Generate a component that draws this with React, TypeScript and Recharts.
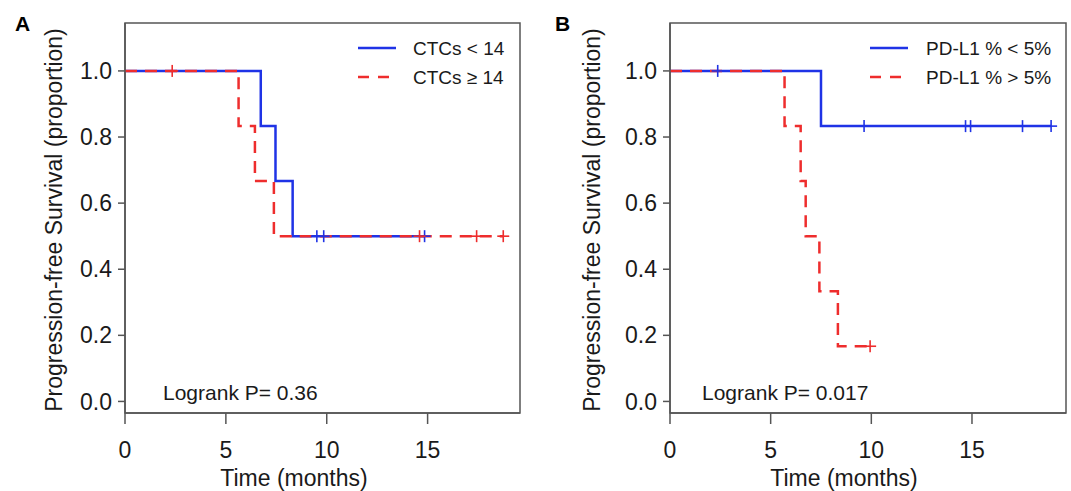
import React from 'react';
import { ComposedChart, Line, Scatter, XAxis, YAxis, ReferenceArea } from 'recharts';

// ---------- data ----------
const xTicks = [0, 5, 10, 15];
const yTicks = [0, 0.2, 0.4, 0.6, 0.8, 1.0];

// Panel A
const ctcLowTimes = [0, 6.73, 7.46, 8.31, 14.85];
const ctcLowSurv = [1, 0.833, 0.667, 0.5, 0.5];
const ctcLowCensorT = [9.51, 9.85, 14.85];
const ctcLowCensorS = [0.5, 0.5, 0.5];
const ctcHighTimes = [0, 5.63, 6.44, 7.38, 18.75];
const ctcHighSurv = [1, 0.833, 0.667, 0.5, 0.5];
const ctcHighCensorT = [2.34, 14.6, 17.43, 18.75];
const ctcHighCensorS = [1, 0.5, 0.5, 0.5];

// Panel B
const pdLowTimes = [0, 7.5, 18.93];
const pdLowSurv = [1, 0.833, 0.833];
const pdLowCensorT = [2.37, 9.64, 14.68, 14.93, 17.51, 18.93];
const pdLowCensorS = [1, 0.833, 0.833, 0.833, 0.833, 0.833];
const pdHighTimes = [0, 5.69, 6.49, 6.74, 7.42, 8.34, 9.94];
const pdHighSurv = [1, 0.833, 0.667, 0.5, 0.333, 0.167, 0.167];
const pdHighCensorT = [9.94];
const pdHighCensorS = [0.167];

const legendA = ['CTCs < 14', 'CTCs \u2265 14'];
const legendB = ['PD-L1 % < 5%', 'PD-L1 % > 5%'];
const pA = 'Logrank P= 0.36';
const pB = 'Logrank P= 0.017';

// ---------- styles ----------
const FONT = '"Liberation Sans", Arial, Helvetica, sans-serif';
const BLUE = '#1f33e6';
const RED = '#ee2d2d';
const AXIS = '#555555';
const TXT = '#1a1a1a';
const DASH = '12 8';

const zip = (t: number[], s: number[]) => t.map((v, i) => ({ t: v, s: s[i] }));

const plusShape = (color: string) => (props: any) => {
  const { cx, cy } = props;
  if (cx == null || cy == null) return <g />;
  return (
    <g>
      <line x1={cx - 6} x2={cx + 6} y1={cy} y2={cy} stroke={color} strokeWidth={1.6} />
      <line x1={cx} x2={cx} y1={cy - 6} y2={cy + 6} stroke={color} strokeWidth={1.6} />
    </g>
  );
};

type PanelProps = {
  width: number;
  left: number;
  yAxisW: number;
  rightM: number;
  xMax: number;
  blueT: number[]; blueS: number[]; blueCT: number[]; blueCS: number[];
  redT: number[]; redS: number[]; redCT: number[]; redCS: number[];
  letter: string; letterX: number;
  legend: string[]; legLineX: number; legTextX: number;
  pText: string; pX: number;
  yTitleX: number; xTitleX: number;
};

const Y_MIN = -0.035;
const Y_MAX = 1.145;

function Panel(p: PanelProps) {
  const annot = () => (
    <g fontFamily={FONT} fill={TXT}>
      <text x={p.letterX} y={31} fontSize={21} fontWeight="bold" fill="#000">{p.letter}</text>
      <text
        x={p.yTitleX}
        y={220}
        fontSize={23}
        textAnchor="middle"
        transform={`rotate(-90, ${p.yTitleX}, 220)`}
      >
        Progression-free Survival (proportion)
      </text>
      <text x={p.xTitleX} y={486} fontSize={23} textAnchor="middle">Time (months)</text>
      <text x={p.pX} y={400} fontSize={21}>{p.pText}</text>
      <line x1={p.legLineX} x2={p.legLineX + 38} y1={48} y2={48} stroke={BLUE} strokeWidth={2.5} />
      <text x={p.legTextX} y={54.8} fontSize={19}>{p.legend[0]}</text>
      <line x1={p.legLineX} x2={p.legLineX + 38} y1={77} y2={77} stroke={RED} strokeWidth={2.5} strokeDasharray="11 9" />
      <text x={p.legTextX} y={83.8} fontSize={19}>{p.legend[1]}</text>
    </g>
  );

  return (
    <div style={{ position: 'absolute', left: p.left, top: 0, width: p.width, height: 491 }}>
      <ComposedChart
        width={p.width}
        height={491}
        margin={{ top: 23, right: p.rightM, bottom: 0, left: 0 }}
      >
        <XAxis
          dataKey="t"
          type="number"
          domain={[0, p.xMax]}
          ticks={xTicks}
          allowDataOverflow
          height={78}
          tickSize={11}
          tickMargin={18}
          stroke={AXIS}
          strokeWidth={1.5}
          tick={{ fontSize: 23, fill: TXT, fontFamily: FONT }}
          interval={0}
        />
        <YAxis
          dataKey="s"
          type="number"
          domain={[Y_MIN, Y_MAX]}
          ticks={yTicks}
          allowDataOverflow
          width={p.yAxisW}
          tickSize={7}
          tickMargin={6}
          stroke={AXIS}
          strokeWidth={1.5}
          tick={{ fontSize: 23, fill: TXT, fontFamily: FONT }}
          tickFormatter={(v: number) => v.toFixed(1)}
          interval={0}
        />
        <ReferenceArea
          x1={0}
          x2={p.xMax}
          y1={Y_MIN}
          y2={Y_MAX}
          fill="none"
          fillOpacity={0}
          stroke={AXIS}
          strokeWidth={1.5}
          ifOverflow="visible"
          label={annot}
        />
        <Line
          data={zip(p.blueT, p.blueS)}
          dataKey="s"
          type="stepAfter"
          stroke={BLUE}
          strokeWidth={2.5}
          dot={false}
          activeDot={false}
          isAnimationActive={false}
        />
        <Line
          data={zip(p.redT, p.redS)}
          dataKey="s"
          type="stepAfter"
          stroke={RED}
          strokeWidth={2.5}
          strokeDasharray={DASH}
          dot={false}
          activeDot={false}
          isAnimationActive={false}
        />
        <Scatter
          data={zip(p.blueCT, p.blueCS)}
          dataKey="s"
          shape={plusShape(BLUE)}
          isAnimationActive={false}
        />
        <Scatter
          data={zip(p.redCT, p.redCS)}
          dataKey="s"
          shape={plusShape(RED)}
          isAnimationActive={false}
        />
      </ComposedChart>
    </div>
  );
}

export default function App() {
  return (
    <div style={{ position: 'absolute', left: 0, top: 0, width: 1071, height: 491, background: '#fff' }}>
      <Panel
        width={540}
        left={0}
        yAxisW={125}
        rightM={20}
        xMax={19.58}
        blueT={ctcLowTimes} blueS={ctcLowSurv} blueCT={ctcLowCensorT} blueCS={ctcLowCensorS}
        redT={ctcHighTimes} redS={ctcHighSurv} redCT={ctcHighCensorT} redCS={ctcHighCensorS}
        letter="A" letterX={15}
        legend={legendA} legLineX={358} legTextX={413}
        pText={pA} pX={163}
        yTitleX={62} xTitleX={294}
      />
      <Panel
        width={531}
        left={540}
        yAxisW={130}
        rightM={5}
        xMax={19.67}
        blueT={pdLowTimes} blueS={pdLowSurv} blueCT={pdLowCensorT} blueCS={pdLowCensorS}
        redT={pdHighTimes} redS={pdHighSurv} redCT={pdHighCensorT} redCS={pdHighCensorS}
        letter="B" letterX={15}
        legend={legendB} legLineX={330} legTextX={386}
        pText={pB} pX={162}
        yTitleX={60} xTitleX={304}
      />
    </div>
  );
}
